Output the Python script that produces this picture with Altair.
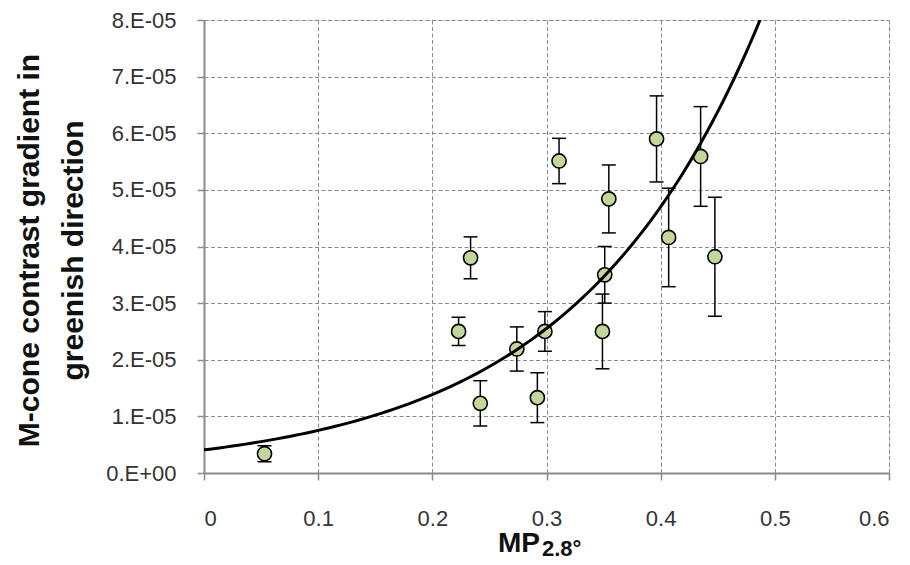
import json
import altair as alt
import pandas as pd

# Data
mp_values = [0.053, 0.223, 0.2335, 0.242, 0.274, 0.292, 0.2986, 0.311,
             0.349, 0.351, 0.3546, 0.3964, 0.407, 0.435, 0.4475]
gradient_values = [3.4e-6, 2.50e-5, 3.80e-5, 1.23e-5, 2.19e-5, 1.33e-5, 2.50e-5, 5.51e-5,
                   2.50e-5, 3.50e-5, 4.84e-5, 5.90e-5, 4.16e-5, 5.59e-5, 3.82e-5]
error_values = [1.4e-6, 2.5e-6, 3.7e-6, 4.0e-6, 3.9e-6, 4.4e-6, 3.5e-6, 4.0e-6,
                6.6e-6, 5.0e-6, 6.0e-6, 7.6e-6, 8.7e-6, 8.8e-6, 1.05e-5]

x_ticks = [0, 0.1, 0.2, 0.3, 0.4, 0.5, 0.6]
x_tick_labels = ["0", "0.1", "0.2", "0.3", "0.4", "0.5", "0.6"]
y_ticks = [0, 1e-5, 2e-5, 3e-5, 4e-5, 5e-5, 6e-5, 7e-5, 8e-5]
y_tick_labels = ["0.E+00", "1.E-05", "2.E-05", "3.E-05", "4.E-05",
                 "5.E-05", "6.E-05", "7.E-05", "8.E-05"]

y_title = ["M-cone contrast gradient in", "greenish direction"]
x_title_main = "MP"
x_title_sub = "2.8°"

df = pd.DataFrame({"x": mp_values, "y": gradient_values, "err": error_values})

BG = "#c4d79b"
FONT = "Liberation Sans"

x_label_expr = json.dumps(x_tick_labels) + "[round(datum.value*10)]"
y_label_expr = json.dumps(y_tick_labels) + "[round(datum.value*1e5)]"

xs = alt.Scale(domain=[0, 0.6], nice=False, zero=False)
ys = alt.Scale(domain=[0, 8e-5], nice=False, zero=False)

x_axis = alt.Axis(values=x_ticks, labelExpr=x_label_expr, title=None,
                  grid=True, gridDash=[4, 2.5], gridColor="#8a8a8a", gridWidth=1,
                  domainColor="#8a8a8a", domainWidth=2, tickColor="#8a8a8a",
                  tickSize=7, tickWidth=1.5, labelPadding=28,
                  labelFont=FONT, labelFontSize=22, labelColor="#333333")
y_axis = alt.Axis(values=y_ticks, labelExpr=y_label_expr, title=y_title,
                  grid=True, gridDash=[4, 2.5], gridColor="#8a8a8a", gridWidth=1,
                  domainColor="#8a8a8a", domainWidth=2, tickColor="#8a8a8a",
                  tickSize=7, tickWidth=1.5, labelPadding=21,
                  labelFont=FONT, labelFontSize=22, labelColor="#333333",
                  titleFont=FONT, titleFontSize=30, titleFontWeight="bold",
                  titleColor="#111111", titleAngle=270, titleAlign="center",
                  titleBaseline="alphabetic", titleX=-166, titleY=230,
                  titleLineHeight=44)

base = alt.Chart(df).transform_calculate(
    lo="datum.y - datum.err", hi="datum.y + datum.err"
)

bars = base.mark_rule(color="black", strokeWidth=1.5).encode(
    x=alt.X("x:Q", scale=xs, axis=x_axis),
    y=alt.Y("lo:Q", scale=ys, axis=y_axis),
    y2="hi:Q",
)
cap_lo = base.mark_tick(orient="horizontal", size=14, thickness=1.5, color="black", opacity=1).encode(
    x=alt.X("x:Q", scale=xs), y=alt.Y("lo:Q", scale=ys))
cap_hi = base.mark_tick(orient="horizontal", size=14, thickness=1.5, color="black", opacity=1).encode(
    x=alt.X("x:Q", scale=xs), y=alt.Y("hi:Q", scale=ys))

points = alt.Chart(df).mark_circle(size=200, color=BG, stroke="black",
                                   strokeWidth=1.6, opacity=1).encode(
    x=alt.X("x:Q", scale=xs), y=alt.Y("y:Q", scale=ys))

# Exponential trendline (least squares on ln y), computed by Vega from the points
trend = alt.Chart(df).transform_calculate(
    lny="log(datum.y)"
).transform_regression(
    "x", "lny", method="linear", params=True
).transform_calculate(
    xs="sequence(0, 0.6005, 0.005)"
).transform_flatten(["xs"]).transform_calculate(
    fit="exp(datum.coef[0] + datum.coef[1]*datum.xs)"
).mark_line(color="black", strokeWidth=3, clip=True).encode(
    x=alt.X("xs:Q", scale=xs), y=alt.Y("fit:Q", scale=ys))

title_main = alt.Chart(pd.DataFrame({"t": [x_title_main]})).mark_text(
    align="right", baseline="alphabetic", font=FONT, fontSize=28,
    fontWeight="bold", color="#111111"
).encode(x=alt.value(336), y=alt.value(532), text="t:N")
title_sub = alt.Chart(pd.DataFrame({"t": [x_title_sub]})).mark_text(
    align="left", baseline="alphabetic", font=FONT, fontSize=22,
    fontWeight="bold", color="#111111"
).encode(x=alt.value(338), y=alt.value(536), text="t:N")

chart = alt.layer(bars, cap_lo, cap_hi, points, trend, title_main, title_sub).properties(
    width=685, height=453,
    autosize=alt.AutoSizeParams(type="none"),
    padding={"left": 196, "top": 12, "right": 13, "bottom": 100},
).configure_view(fill=BG, stroke=None).configure(background="white")

chart.save("out.html", embed_options={"renderer": "svg", "actions": False})
